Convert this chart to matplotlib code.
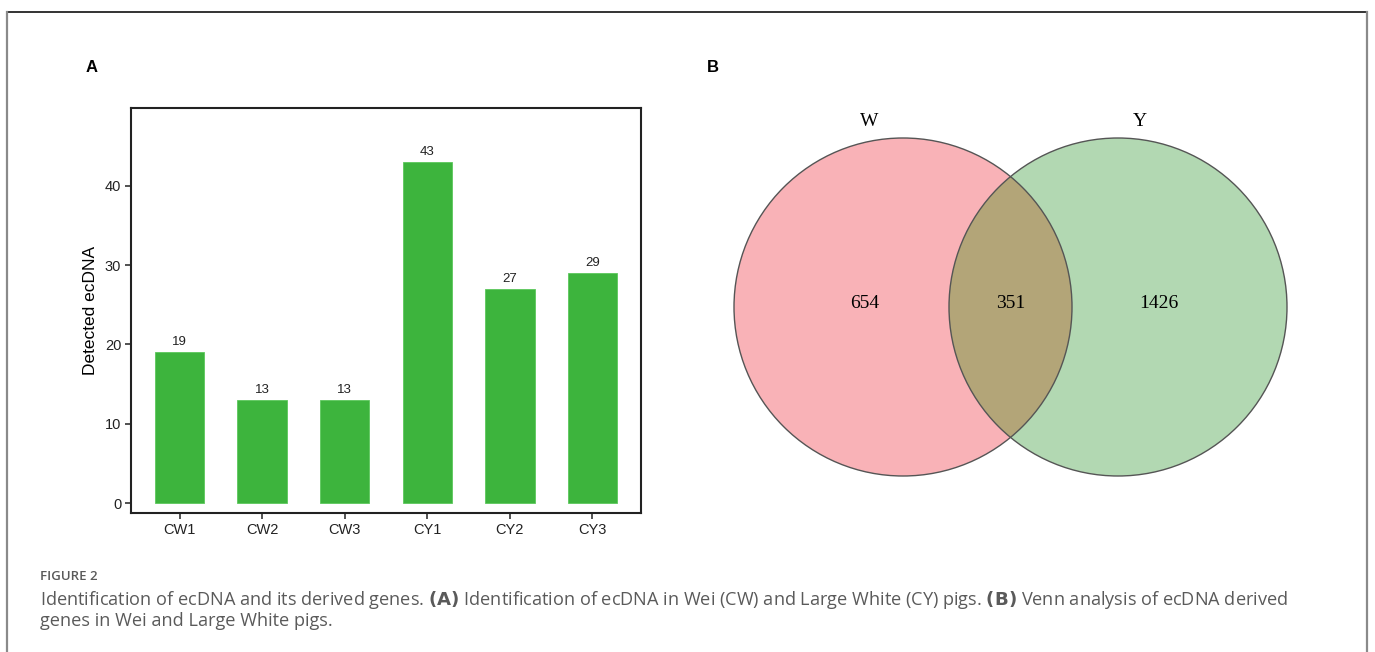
import matplotlib
matplotlib.use("Agg")
import matplotlib.pyplot as plt
from matplotlib.patches import Circle
from matplotlib.lines import Line2D

# Datos del panel A
muestras = ["CW1", "CW2", "CW3", "CY1", "CY2", "CY3"]
ecdna = [19, 13, 13, 43, 27, 29]
yticks = [0, 10, 20, 30, 40]

# Datos del panel B (Venn)
conjuntos = ["W", "Y"]
solo_w, interseccion, solo_y = 654, 351, 1426

W, H = 1375, 652


def px(x, y):
    """pixel (desde arriba-izquierda) -> fraccion de figura"""
    return x / W, 1 - y / H


fig = plt.figure(figsize=(W / 100, H / 100), dpi=100)

# marco exterior (sin borde inferior)
x0, y0 = px(7, 12)
x1, y1 = px(1367, 12)
fig.add_artist(Line2D([x0, x1], [y0, y1], color="#333333", lw=1.4))
fig.add_artist(Line2D([x0, x0], [0, y0], color="#8a8a8a", lw=1.6))
fig.add_artist(Line2D([x1, x1], [0, y1], color="#8a8a8a", lw=1.6))

# ---------- Panel A ----------
izq, der, arriba, abajo = 131, 641, 108, 513
ax = fig.add_axes([izq / W, 1 - abajo / H, (der - izq) / W, (abajo - arriba) / H])
pos = list(range(len(muestras)))
ax.bar(pos, ecdna, width=0.6, color="#3db43d", edgecolor="#5cc85c", lw=0.6)
for p, v in zip(pos, ecdna):
    ax.text(p, v + 0.5, str(v), ha="center", va="bottom", fontsize=9.5,
            family="Liberation Sans", color="#222222")
ax.set_xlim(-0.59, 5.59)
ax.set_ylim(-1.26, 49.8)
ax.set_xticks(pos)
ax.set_xticklabels(muestras, family="Liberation Sans", fontsize=10.5, color="#222222")
ax.set_yticks(yticks)
ax.set_yticklabels([str(t) for t in yticks], family="Liberation Sans", fontsize=10.5,
                   color="#222222")
ax.tick_params(length=4, width=1.1, color="#222222", pad=3)
for s in ax.spines.values():
    s.set_linewidth(1.5)
    s.set_color("#222222")
ax.set_ylabel("Detected ecDNA", family="Liberation Sans", fontsize=12.5, labelpad=5)

fig.text(*px(92, 67), "A", fontsize=12, fontweight="bold", family="Liberation Sans",
         ha="center", va="center")
fig.text(*px(713, 67), "B", fontsize=12, fontweight="bold", family="Liberation Sans",
         ha="center", va="center")

# ---------- Panel B ----------
bx = fig.add_axes([700 / W, 0, 675 / W, 1])
bx.set_xlim(700, 1375)
bx.set_ylim(652, 0)
bx.axis("off")
r = 169
cw, cy = (903, 307), (1118, 307)
bx.add_patch(Circle(cw, r, facecolor="#f9b2b7", edgecolor="none"))
bx.add_patch(Circle(cy, r, facecolor="#b2d8b2", edgecolor="none"))
lente = Circle(cw, r, facecolor="#b3a578", edgecolor="none")
bx.add_patch(lente)
clip = Circle(cy, r, transform=bx.transData)
lente.set_clip_path(clip)
bx.add_patch(Circle(cw, r, facecolor="none", edgecolor="#555555", lw=1.0))
bx.add_patch(Circle(cy, r, facecolor="none", edgecolor="#555555", lw=1.0))

serif = "Liberation Serif"
bx.text(869, 121, conjuntos[0], fontsize=14, family=serif, ha="center", va="center")
bx.text(1140, 121, conjuntos[1], fontsize=14, family=serif, ha="center", va="center")
bx.text(865, 303, str(solo_w), fontsize=14, family=serif, ha="center", va="center")
bx.text(1011, 303, str(interseccion), fontsize=14, family=serif, ha="center", va="center")
bx.text(1159, 303, str(solo_y), fontsize=14, family=serif, ha="center", va="center")

# ---------- Pie de figura ----------
gris = "#5a5a5a"
fig.text(*px(40, 577), "FIGURE 2", fontsize=9.5, family="Open Sans", fontweight="semibold",
         color=gris, ha="left", va="center")
fig.text(*px(40, 600),
         "Identification of ecDNA and its derived genes. $\\bf{(A)}$ Identification of ecDNA in "
         "Wei (CW) and Large White (CY) pigs. $\\bf{(B)}$ Venn analysis of ecDNA derived",
         fontsize=13.1, family="Open Sans", color=gris, ha="left", va="center")
fig.text(*px(40, 621), "genes in Wei and Large White pigs.", fontsize=13.1,
         family="Open Sans", color=gris, ha="left", va="center")

fig.savefig("out.png", dpi=100)
